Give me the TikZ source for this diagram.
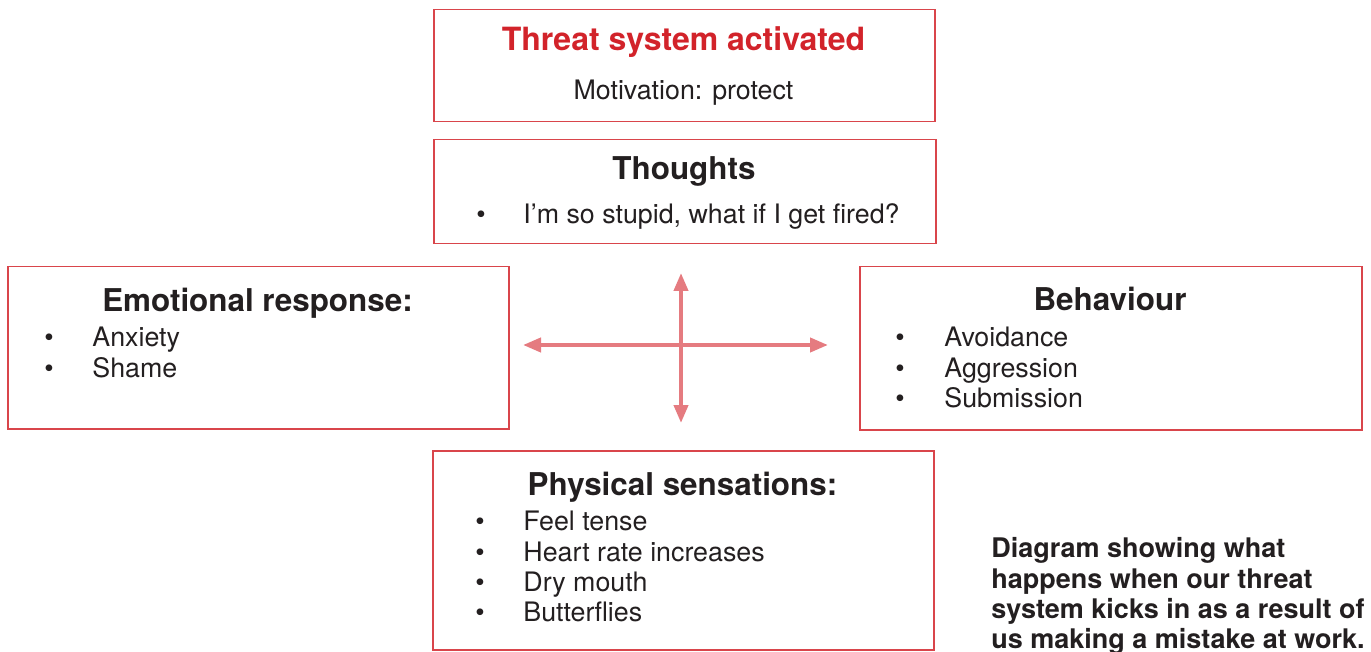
\documentclass[tikz,border=0pt]{standalone}
\usepackage{fontspec}
\setmainfont{TeX Gyre Heros}
\usetikzlibrary{arrows.meta}
\definecolor{boxred}{HTML}{D9454B}
\definecolor{titlered}{HTML}{D2232A}
\definecolor{arrowred}{HTML}{E57B80}
\definecolor{ink}{HTML}{231F20}
\begin{document}
\begin{tikzpicture}[x=0.5pt,y=-0.5pt,
  box/.style={draw=boxred, line width=0.75pt, anchor=north west, inner sep=0pt},
  head/.style={anchor=base, inner sep=0pt, text=ink, font=\fontsize{15.7}{18}\selectfont\bfseries},
  title/.style={anchor=base, inner sep=0pt, text=titlered, font=\fontsize{16}{19}\selectfont\bfseries},
  body/.style={anchor=base west, inner sep=0pt, text=ink, font=\fontsize{13.4}{16}\selectfont},
  dot/.style={anchor=base, inner sep=0pt, text=ink, font=\fontsize{13.4}{16}\selectfont},
  caption/.style={anchor=base west, inner sep=0pt, text=ink, font=\fontsize{13.5}{15}\selectfont\bfseries},
  link/.style={draw=arrowred, line width=2pt,
    {Triangle[width=7pt,length=9pt]}-{Triangle[width=7pt,length=9pt]}}
]
\useasboundingbox (0,0) rectangle (1371,652);

% frames
\node[box, minimum width=250.5pt, minimum height=56pt] (threat) at (433,9) {};
\node[box, minimum width=251pt, minimum height=52pt] (thoughts) at (433,139) {};
\node[box, minimum width=250.5pt, minimum height=81pt] (emotion) at (7,266) {};
\node[box, minimum width=251pt, minimum height=81.5pt] (behaviour) at (859,266) {};
\node[box, minimum width=250.5pt, minimum height=99.5pt] (physical) at (432,450) {};

% threat system
\node[title] (threatT) at (683.5,51) {Threat system activated};
\node[dot] (threatM) at (683.5,100) {Motivation: protect};

% thoughts
\node[head] (thoughtsT) at (684,180) {Thoughts};
\node[dot] (thoughtsB1) at (481,224) {\textbullet};
\node[body] (thoughtsI1) at (523,224) {I’m so stupid, what if I get fired?};

% emotional response
\node[head] (emotionT) at (257.5,312) {Emotional response:};
\node[dot] (emotionB1) at (49,347) {\textbullet};
\node[body] (emotionI1) at (92,347) {Anxiety};
\node[dot] (emotionB2) at (49,378) {\textbullet};
\node[body] (emotionI2) at (92,378) {Shame};

% behaviour
\node[head] (behaviourT) at (1110,311) {Behaviour};
\node[dot] (behaviourB1) at (900,347) {\textbullet};
\node[body] (behaviourI1) at (944,347) {Avoidance};
\node[dot] (behaviourB2) at (900,378) {\textbullet};
\node[body] (behaviourI2) at (944,378) {Aggression};
\node[dot] (behaviourB3) at (900,408) {\textbullet};
\node[body] (behaviourI3) at (944,408) {Submission};

% physical sensations
\node[head] (physicalT) at (682.5,495) {Physical sensations:};
\node[dot] (physicalB1) at (480,530) {\textbullet};
\node[body] (physicalI1) at (523,530) {Feel tense};
\node[dot] (physicalB2) at (480,561) {\textbullet};
\node[body] (physicalI2) at (523,561) {Heart rate increases};
\node[dot] (physicalB3) at (480,591) {\textbullet};
\node[body] (physicalI3) at (523,591) {Dry mouth};
\node[dot] (physicalB4) at (480,621) {\textbullet};
\node[body] (physicalI4) at (523,621) {Butterflies};

% central cross of double arrows
\coordinate (hl) at (523,345);
\coordinate (hr) at (828,345);
\coordinate (vt) at (681,273);
\coordinate (vb) at (681,423);
\draw[link] (hl) -- (hr);
\draw[link] (vt) -- (vb);

% caption
\node[caption] (cap1) at (991,557) {Diagram showing what};
\node[caption] (cap2) at (991,588) {happens when our threat};
\node[caption] (cap3) at (991,618) {system kicks in as a result of};
\node[caption] (cap4) at (991,648) {us making a mistake at work.};
\end{tikzpicture}
\end{document}
